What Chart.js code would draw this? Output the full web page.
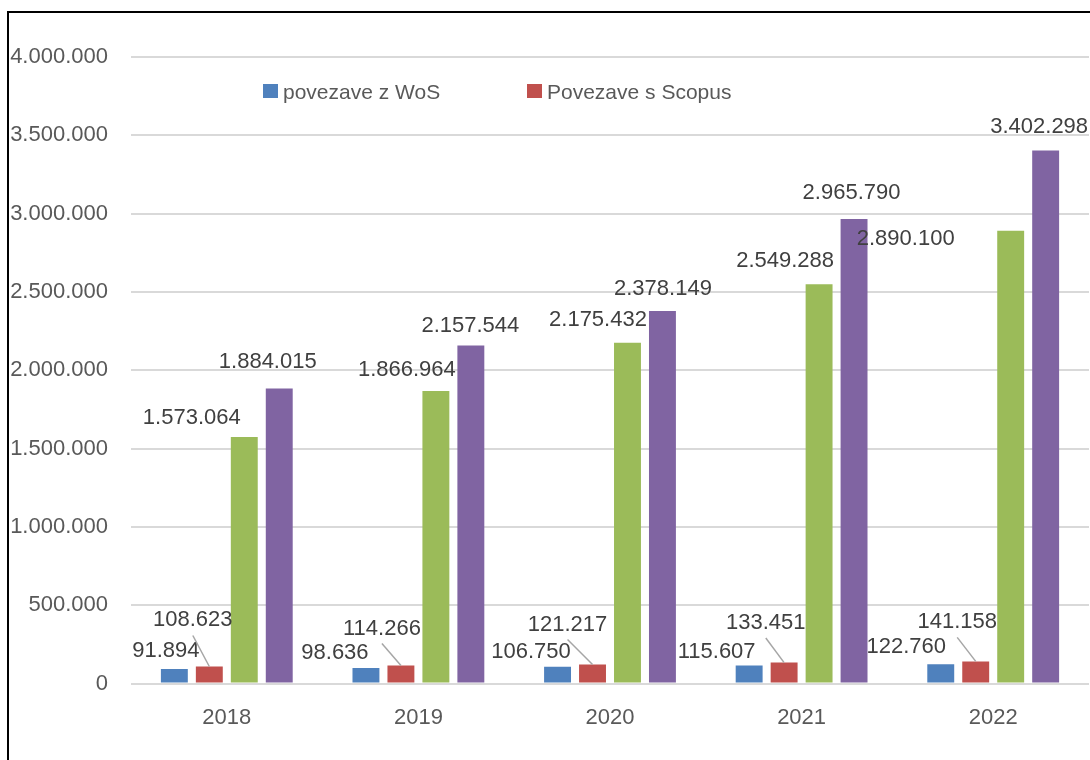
<!DOCTYPE html>
<html>
<head>
<meta charset="utf-8">
<script src="https://cdn.jsdelivr.net/npm/chart.js@4/dist/chart.umd.min.js"></script>
<style>
  html, body { margin: 0; padding: 0; background: #fff; overflow: hidden; }
  #wrap { position: relative; width: 1090px; height: 760px; }
  #frame { position: absolute; left: 7px; top: 11px; right: -10px; bottom: -10px;
           border-left: 2px solid #000; border-top: 2px solid #000; pointer-events: none; }
</style>
</head>
<body>
<div id="wrap">
  <canvas id="barChart" width="1090" height="760"></canvas>
  <div id="frame"></div>
</div>
<script>
// data
var years   = ['2018', '2019', '2020', '2021', '2022'];
var wos     = [91894, 98636, 106750, 115607, 122760];
var scopus  = [108623, 114266, 121217, 133451, 141158];
var green   = [1573064, 1866964, 2175432, 2549288, 2890100];
var purple  = [1884015, 2157544, 2378149, 2965790, 3402298];
var legendNames = ['povezave z WoS', 'Povezave s Scopus'];

var colors = ['#4F81BD', '#C0504D', '#9BBB59', '#8064A2'];
var FONT = "'Liberation Sans', Arial, sans-serif";

// label placement (dx, dy of label centre from bar top centre), as moved by hand in the original
var labelOffsets = [
  [[-8.5, -20], [-31, -17.5], [-26.5, -17], [-32.5, -15], [-34.5, -19]],
  [[-16.5, -48], [-19, -39], [-25, -42], [-18.3, -41.6], [-18.5, -41]],
  [[-52.5, -21], [-29, -23], [-29.5, -25], [-34, -25], [-105, 6]],
  [[-11.5, -28], [-0.5, -22], [0.5, -24], [-2.5, -28], [-6.5, -25.6]]
]

function fmt(v) {
  return Number(v).toLocaleString('de-DE')
}

// data labels + leader lines
var valueLabels = {
  id: 'valueLabels',
  afterDatasetsDraw: function (chart) {
    var ctx = chart.ctx
    ctx.save()
    ctx.font = '22px ' + FONT
    ctx.textAlign = 'center'
    ctx.textBaseline = 'alphabetic'
    chart.data.datasets.forEach(function (ds, i) {
      var meta = chart.getDatasetMeta(i)
      meta.data.forEach(function (bar, j) {
        var off = labelOffsets[i][j]
        var cx = bar.x + off[0]
        var cy = bar.y + off[1]
        if (i === 1) {
          ctx.strokeStyle = '#a6a6a6'
          ctx.lineWidth = 1.5
          ctx.beginPath()
          ctx.moveTo(cx, cy + 17)
          ctx.lineTo(bar.x, bar.y)
          ctx.stroke()
        }
        ctx.fillStyle = '#404040'
        ctx.fillText(fmt(ds.data[j]), cx, cy + 8)
      })
    })
    ctx.restore()
  }
}

// legend sits inside the plot, only the first two series
var innerLegend = {
  id: 'innerLegend',
  afterDraw: function (chart) {
    var ctx = chart.ctx
    var area = chart.chartArea
    var starts = [area.left + 132, area.left + 396]
    var y = area.top + 34
    ctx.save()
    ctx.font = '21px ' + FONT
    ctx.textAlign = 'left'
    ctx.textBaseline = 'alphabetic'
    legendNames.forEach(function (name, i) {
      ctx.fillStyle = colors[i]
      ctx.fillRect(starts[i], y - 7, 15, 14)
      ctx.fillStyle = '#595959'
      ctx.fillText(name, starts[i] + 20, y + 8)
    })
    ctx.restore()
  }
}

var barChartCanvas = document.getElementById('barChart').getContext('2d')

var barChart = new Chart(barChartCanvas, {
  type: 'bar',
  data: {
    labels: years,
    datasets: [
      { label: legendNames[0], data: wos,    backgroundColor: colors[0] },
      { label: legendNames[1], data: scopus, backgroundColor: colors[1] },
      { label: '',             data: green,  backgroundColor: colors[2] },
      { label: '',             data: purple, backgroundColor: colors[3] }
    ]
  },
  options: {
    responsive: false,
    animation: false,
    layout: { padding: { top: 57, right: 1, left: 0, bottom: 0 } },
    datasets: { bar: { categoryPercentage: 0.73, barPercentage: 0.77 } },
    plugins: {
      legend: { display: false },
      tooltip: { enabled: false }
    },
    scales: {
      x: {
        grid: { display: false, drawTicks: false },
        border: { display: false },
        ticks: { color: '#595959', font: { family: FONT, size: 22 }, padding: 21 },
        afterFit: function (s) { s.height = 76.5 }
      },
      y: {
        min: 0,
        max: 4000000,
        grid: { color: '#d9d9d9', lineWidth: 2, drawTicks: false },
        border: { display: false },
        ticks: {
          stepSize: 500000,
          color: '#595959',
          font: { family: FONT, size: 22 },
          padding: 23,
          callback: function (v) { return fmt(v) }
        },
        afterFit: function (s) { s.width = 131 }
      }
    }
  },
  plugins: [valueLabels, innerLegend]
})
</script>
</body>
</html>
